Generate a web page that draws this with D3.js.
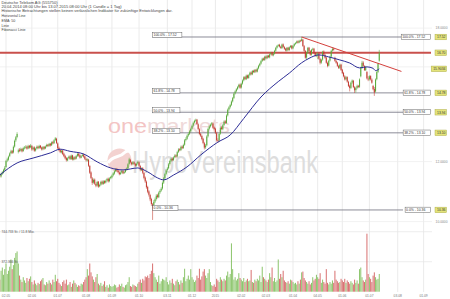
<!DOCTYPE html>
<html lang="de">
<head>
<meta charset="utf-8">
<title>Deutsche Telekom AG (555750)</title>
<script src="https://cdn.jsdelivr.net/npm/d3@7"></script>
<style>
  html, body { margin: 0; padding: 0; background: #fff; }
  svg { display: block; font-family: "Liberation Sans", Arial, sans-serif; }
</style>
</head>
<body>
<script>
// daily candles 22.04.2014 - 13.07.2015, one line per month
var opens = [
  11.40, 11.44, 11.54, 11.47, 11.57, 11.60, 11.70,
  11.80, 12.04, 12.07, 12.20, 12.31, 12.40, 12.34, 12.56, 12.80, 12.93, 12.36, 12.44, 12.41, 12.47, 12.39, 12.50, 12.53, 12.56, 12.49, 12.59, 12.53,
  12.58, 12.46, 12.53, 12.41, 12.49, 12.56, 12.51, 12.59, 12.53, 12.46, 12.55, 12.49, 12.57, 12.63, 12.59, 12.67, 12.61, 12.73, 12.69, 12.81, 12.86,
  12.68, 12.51, 12.43, 12.34, 12.41, 12.29, 12.21, 12.13, 12.04, 12.13, 12.19, 12.09, 12.23, 12.07, 12.16, 12.11, 12.21, 12.29, 12.23, 12.14, 12.21, 12.26, 12.19,
  12.09, 12.04, 12.07, 11.84, 11.61, 11.40, 11.26, 11.36, 11.21, 11.16, 11.29, 11.13, 11.19, 11.29, 11.21, 11.31, 11.26, 11.33, 11.39, 11.31, 11.41,
  11.44, 11.51, 11.57, 11.66, 11.73, 11.67, 11.61, 11.56, 11.61, 11.65, 11.59, 11.63, 11.71, 11.76, 11.92, 12.06, 11.97, 11.91, 11.97, 11.91, 11.86, 11.93,
  11.97, 11.84, 11.69, 11.76, 11.59, 11.43, 11.29, 11.11, 10.96, 10.84, 10.71, 10.54, 10.42, 10.63, 10.71, 10.83, 10.77, 10.93, 10.99, 11.06, 11.26, 11.41, 11.56,
  11.70, 11.76, 11.91, 12.03, 12.11, 12.06, 12.16, 12.23, 12.19, 12.36, 12.46, 12.43, 12.56, 12.51, 12.63, 12.81, 12.86, 12.99, 13.06, 13.16,
  13.26, 13.39, 13.51, 13.59, 13.63, 13.44, 13.24, 13.06, 12.97, 12.86, 12.69, 12.53, 12.61, 12.96, 13.26, 13.36, 13.43, 13.47, 13.31,
  13.26, 13.08, 12.81, 12.79, 13.06, 13.31, 13.24, 13.41, 13.56, 13.49, 13.81, 14.06, 14.16, 14.26, 14.41, 14.56, 14.76, 14.86, 14.96, 15.06, 15.16,
  15.03, 15.21, 15.36, 15.51, 15.41, 15.59, 15.47, 15.61, 15.73, 15.64, 15.81, 15.74, 15.86, 15.77, 15.93, 16.06, 16.16, 16.29, 16.41, 16.34,
  16.51, 16.43, 16.56, 16.47, 16.63, 16.71, 16.57, 16.66, 16.81, 16.96, 17.06, 17.11, 17.01, 16.94, 17.13, 16.99, 16.91, 16.81, 16.96, 16.84, 16.99, 17.06,
  16.93, 17.06, 17.16, 17.21, 17.29, 17.23, 17.33, 17.31, 17.38, 17.04, 16.79, 16.46, 16.71, 16.96, 16.79, 16.61, 16.86, 16.91, 16.69, 16.56,
  16.62, 16.66, 16.39, 16.21, 16.36, 16.76, 16.59, 16.46, 16.19, 16.06, 16.31, 16.51, 16.81, 16.91, 16.45, 16.29, 16.21, 16.04, 15.96, 16.11,
  15.86, 15.71, 15.54, 15.41, 15.51, 15.29, 15.11, 15.01, 15.26, 15.34, 15.04, 14.91, 15.01, 15.11, 15.06, 15.55, 15.96, 16.21, 16.04, 15.84, 15.75, 15.44,
  15.41, 15.56, 15.39, 15.10, 14.96, 14.85, 15.41, 15.76, 16.30
];
var highs = [
  11.50, 11.58, 11.57, 11.60, 11.66, 11.74, 11.84,
  12.06, 12.14, 12.22, 12.34, 12.44, 12.43, 12.60, 12.83, 12.97, 13.12, 12.48, 12.50, 12.52, 12.50, 12.55, 12.58, 12.61, 12.60, 12.63, 12.62, 12.66,
  12.62, 12.56, 12.57, 12.52, 12.60, 12.60, 12.63, 12.62, 12.56, 12.58, 12.58, 12.60, 12.67, 12.66, 12.70, 12.70, 12.76, 12.78, 12.84, 12.93, 12.90,
  12.72, 12.56, 12.47, 12.44, 12.45, 12.33, 12.25, 12.17, 12.16, 12.22, 12.23, 12.26, 12.25, 12.19, 12.20, 12.24, 12.32, 12.33, 12.27, 12.24, 12.29, 12.30, 12.22,
  12.14, 12.12, 12.10, 11.88, 11.65, 11.45, 11.40, 11.40, 11.26, 11.32, 11.31, 11.22, 11.32, 11.33, 11.34, 11.34, 11.36, 11.42, 11.43, 11.44, 11.49,
  11.54, 11.62, 11.69, 11.76, 11.77, 11.70, 11.64, 11.64, 11.70, 11.68, 11.66, 11.74, 11.79, 11.94, 12.14, 12.10, 12.00, 12.02, 12.01, 11.95, 11.96, 12.03,
  12.01, 11.88, 11.79, 11.80, 11.63, 11.47, 11.33, 11.15, 11.00, 10.88, 10.75, 10.58, 10.68, 10.76, 10.87, 10.88, 10.96, 11.03, 11.10, 11.30, 11.45, 11.60, 11.73,
  11.80, 11.95, 12.07, 12.15, 12.16, 12.19, 12.27, 12.27, 12.40, 12.50, 12.50, 12.60, 12.60, 12.67, 12.85, 12.92, 13.03, 13.10, 13.20, 13.30,
  13.43, 13.55, 13.63, 13.67, 13.66, 13.48, 13.28, 13.10, 13.02, 12.90, 12.74, 12.66, 13.00, 13.30, 13.40, 13.47, 13.53, 13.50, 13.35,
  13.30, 13.12, 12.88, 13.10, 13.35, 13.36, 13.45, 13.60, 13.62, 13.85, 14.10, 14.20, 14.30, 14.45, 14.60, 14.80, 14.90, 15.00, 15.10, 15.20, 15.21,
  15.25, 15.40, 15.55, 15.56, 15.63, 15.63, 15.65, 15.77, 15.78, 15.85, 15.86, 15.90, 15.90, 15.97, 16.10, 16.20, 16.33, 16.45, 16.46, 16.55,
  16.56, 16.60, 16.60, 16.67, 16.75, 16.75, 16.70, 16.85, 17.00, 17.10, 17.15, 17.16, 17.06, 17.17, 17.18, 17.04, 16.95, 17.00, 17.00, 17.03, 17.10, 17.10,
  17.10, 17.20, 17.25, 17.33, 17.34, 17.37, 17.38, 17.52, 17.42, 17.10, 16.84, 16.75, 17.00, 17.00, 16.84, 16.90, 16.96, 16.95, 16.74, 16.68,
  16.72, 16.70, 16.45, 16.40, 16.80, 16.82, 16.65, 16.50, 16.25, 16.35, 16.55, 16.85, 16.98, 16.96, 16.50, 16.35, 16.25, 16.10, 16.16, 16.15,
  15.90, 15.76, 15.60, 15.56, 15.55, 15.34, 15.16, 15.30, 15.40, 15.38, 15.09, 15.06, 15.16, 15.15, 15.45, 16.00, 16.30, 16.28, 16.08, 16.05, 15.80, 15.55,
  15.60, 15.60, 15.45, 15.15, 15.05, 15.45, 15.82, 16.20, 16.85
];
var lows = [
  11.35, 11.40, 11.44, 11.43, 11.52, 11.57, 11.66,
  11.78, 11.98, 12.03, 12.16, 12.27, 12.28, 12.30, 12.52, 12.74, 12.88, 12.30, 12.35, 12.37, 12.34, 12.36, 12.45, 12.48, 12.44, 12.46, 12.48, 12.50,
  12.40, 12.42, 12.36, 12.37, 12.45, 12.46, 12.47, 12.48, 12.41, 12.42, 12.44, 12.46, 12.53, 12.54, 12.55, 12.56, 12.58, 12.64, 12.66, 12.77, 12.66,
  12.45, 12.38, 12.31, 12.30, 12.24, 12.16, 12.08, 12.00, 12.01, 12.09, 12.06, 12.06, 12.04, 12.04, 12.06, 12.08, 12.17, 12.18, 12.11, 12.12, 12.18, 12.14, 12.06,
  12.00, 12.00, 11.81, 11.56, 11.38, 11.18, 11.22, 11.18, 11.10, 11.12, 11.08, 11.10, 11.15, 11.18, 11.18, 11.21, 11.23, 11.29, 11.26, 11.27, 11.37,
  11.40, 11.47, 11.53, 11.62, 11.64, 11.58, 11.51, 11.52, 11.57, 11.55, 11.56, 11.60, 11.67, 11.73, 11.89, 11.94, 11.86, 11.87, 11.88, 11.81, 11.82, 11.89,
  11.81, 11.65, 11.66, 11.55, 11.37, 11.25, 11.05, 10.90, 10.79, 10.64, 10.49, 10.05, 10.36, 10.58, 10.66, 10.73, 10.74, 10.88, 10.95, 11.02, 11.21, 11.36, 11.51,
  11.64, 11.72, 11.86, 11.98, 12.01, 12.02, 12.12, 12.14, 12.15, 12.32, 12.38, 12.39, 12.46, 12.47, 12.59, 12.76, 12.82, 12.94, 13.01, 13.11,
  13.22, 13.34, 13.47, 13.54, 13.41, 13.20, 13.00, 12.93, 12.80, 12.65, 12.45, 12.47, 12.57, 12.91, 13.21, 13.31, 13.38, 13.26, 13.20,
  13.05, 12.75, 12.70, 12.75, 13.02, 13.20, 13.20, 13.37, 13.45, 13.46, 13.76, 14.01, 14.10, 14.21, 14.36, 14.51, 14.71, 14.81, 14.91, 15.01, 14.97,
  14.98, 15.16, 15.31, 15.37, 15.37, 15.43, 15.43, 15.56, 15.60, 15.60, 15.70, 15.70, 15.73, 15.73, 15.88, 16.01, 16.11, 16.24, 16.30, 16.29,
  16.37, 16.38, 16.43, 16.42, 16.58, 16.53, 16.52, 16.61, 16.76, 16.91, 17.01, 16.97, 16.90, 16.89, 16.95, 16.85, 16.77, 16.76, 16.80, 16.80, 16.94, 16.87,
  16.88, 17.01, 17.11, 17.16, 17.18, 17.19, 17.25, 17.28, 17.00, 16.75, 16.40, 16.36, 16.66, 16.75, 16.55, 16.56, 16.81, 16.65, 16.50, 16.48,
  16.38, 16.35, 16.12, 16.15, 16.30, 16.55, 16.40, 16.15, 15.98, 16.02, 16.26, 16.46, 16.76, 16.80, 16.25, 16.15, 16.00, 15.90, 15.90, 15.80,
  15.65, 15.50, 15.35, 15.36, 15.25, 15.05, 14.85, 14.96, 15.20, 15.00, 14.78, 14.80, 14.95, 15.00, 15.01, 15.50, 15.90, 16.00, 15.80, 15.80, 15.40, 15.32,
  15.35, 15.35, 15.20, 14.90, 14.65, 14.80, 15.36, 15.70, 16.25
];
var closes = [
  11.45, 11.52, 11.48, 11.56, 11.62, 11.70, 11.78,
  12.02, 12.08, 12.18, 12.30, 12.38, 12.32, 12.55, 12.78, 12.92, 13.05, 12.42, 12.40, 12.46, 12.38, 12.50, 12.52, 12.55, 12.48, 12.58, 12.52, 12.60,
  12.45, 12.52, 12.40, 12.48, 12.55, 12.50, 12.58, 12.52, 12.45, 12.54, 12.48, 12.56, 12.62, 12.58, 12.66, 12.60, 12.72, 12.68, 12.80, 12.88, 12.70,
  12.50, 12.42, 12.35, 12.40, 12.28, 12.20, 12.12, 12.05, 12.12, 12.18, 12.10, 12.22, 12.08, 12.15, 12.10, 12.20, 12.28, 12.22, 12.15, 12.20, 12.25, 12.18, 12.10,
  12.05, 12.08, 11.85, 11.60, 11.42, 11.25, 11.35, 11.22, 11.15, 11.28, 11.12, 11.18, 11.28, 11.22, 11.30, 11.25, 11.32, 11.38, 11.30, 11.40, 11.45,
  11.50, 11.58, 11.65, 11.72, 11.68, 11.62, 11.55, 11.60, 11.66, 11.58, 11.62, 11.70, 11.75, 11.90, 12.08, 11.98, 11.90, 11.98, 11.92, 11.85, 11.92, 11.98,
  11.85, 11.70, 11.75, 11.60, 11.42, 11.30, 11.10, 10.95, 10.85, 10.70, 10.55, 10.40, 10.62, 10.70, 10.82, 10.78, 10.92, 10.98, 11.05, 11.25, 11.40, 11.55, 11.68,
  11.75, 11.90, 12.02, 12.10, 12.05, 12.15, 12.22, 12.18, 12.35, 12.45, 12.42, 12.55, 12.50, 12.62, 12.80, 12.85, 12.98, 13.05, 13.15, 13.25,
  13.38, 13.50, 13.58, 13.62, 13.45, 13.25, 13.05, 12.98, 12.85, 12.70, 12.52, 12.60, 12.95, 13.25, 13.35, 13.42, 13.48, 13.30, 13.25,
  13.10, 12.80, 12.78, 13.05, 13.30, 13.25, 13.40, 13.55, 13.50, 13.80, 14.05, 14.15, 14.25, 14.40, 14.55, 14.75, 14.85, 14.95, 15.05, 15.15, 15.02,
  15.20, 15.35, 15.50, 15.42, 15.58, 15.48, 15.60, 15.72, 15.65, 15.80, 15.75, 15.85, 15.78, 15.92, 16.05, 16.15, 16.28, 16.40, 16.35, 16.50,
  16.42, 16.55, 16.48, 16.62, 16.70, 16.58, 16.65, 16.80, 16.95, 17.05, 17.10, 17.02, 16.95, 17.12, 17.00, 16.90, 16.82, 16.95, 16.85, 16.98, 17.05, 16.92,
  17.05, 17.15, 17.20, 17.28, 17.22, 17.32, 17.30, 17.40, 17.05, 16.80, 16.45, 16.70, 16.95, 16.80, 16.60, 16.85, 16.90, 16.70, 16.55, 16.60,
  16.65, 16.40, 16.20, 16.35, 16.75, 16.60, 16.45, 16.20, 16.05, 16.30, 16.50, 16.80, 16.90, 16.85, 16.30, 16.20, 16.05, 15.95, 16.10, 15.85,
  15.70, 15.55, 15.40, 15.50, 15.30, 15.10, 15.00, 15.25, 15.35, 15.05, 14.90, 15.00, 15.10, 15.05, 15.40, 15.95, 16.20, 16.05, 15.85, 16.00, 15.45, 15.40,
  15.55, 15.40, 15.25, 14.95, 14.80, 15.40, 15.75, 16.15, 16.70
];
// volume in thousand shares
var volumes = [
  180, 230, 150, 260, 300, 210, 280,
  350, 220, 260, 310, 400, 280, 330, 420, 480, 500, 350, 200, 150, 120, 180, 140, 110, 170, 130, 160, 190,
  120, 90, 140, 100, 80, 110, 95, 130, 150, 170, 90, 80, 120, 100, 140, 110, 90, 150, 120, 210, 130,
  160, 110, 90, 70, 120, 140, 100, 150, 80, 90, 120, 60, 100, 140, 110, 90, 60, 80, 70, 100, 90, 120, 150,
  180, 280, 200, 350, 240, 190, 150, 120, 180, 220, 100, 80, 110, 70, 90, 130, 60, 80, 50, 90, 70,
  60, 70, 90, 80, 50, 60, 90, 70, 100, 60, 50, 80, 90, 120, 180, 70, 60, 90, 80, 70, 60, 100,
  120, 150, 110, 160, 140, 190, 180, 200, 170, 220, 260, 350, 230, 180, 150, 120, 200, 100, 130, 160, 150, 140, 180,
  120, 90, 140, 110, 160, 100, 80, 130, 150, 120, 90, 140, 110, 180, 285, 130, 160, 200, 150, 280,
  180, 150, 120, 140, 200, 170, 285, 150, 190, 250, 280, 200, 170, 230, 280, 120, 80, 70, 90,
  60, 160, 140, 120, 180, 150, 130, 160, 140, 200, 250, 180, 220, 600, 280, 150, 180, 140, 160, 230, 170,
  150, 130, 170, 120, 140, 160, 130, 140, 270, 120, 110, 150, 130, 160, 140, 200, 120, 310, 180, 160,
  140, 120, 150, 230, 180, 300, 130, 170, 120, 140, 400, 160, 220, 180, 260, 140, 120, 110, 130, 100, 150, 140,
  120, 100, 110, 90, 130, 100, 150, 240, 250, 170, 140, 120, 100, 130, 90, 110, 180, 140, 160, 210,
  180, 160, 230, 110, 150, 120, 100, 280, 110, 90, 120, 100, 140, 110, 260, 150, 130, 110, 120, 160,
  140, 120, 160, 110, 140, 120, 100, 130, 110, 90, 150, 110, 140, 100, 280, 300, 180, 140, 120, 150, 720, 220,
  180, 160, 120, 200, 240, 180, 150, 160, 220
];
var volMax = 744.733;

var emaDates = ["2014-04-24", "2014-05-15", "2014-06-03", "2014-06-23", "2014-07-03", "2014-07-15",
  "2014-07-30", "2014-08-14", "2014-08-29", "2014-09-12", "2014-09-30", "2014-10-10", "2014-10-22",
  "2014-10-29", "2014-11-10", "2014-11-25", "2014-12-10", "2015-01-06", "2015-01-20", "2015-02-04",
  "2015-02-24", "2015-03-16", "2015-03-27", "2015-04-14", "2015-04-22", "2015-05-05", "2015-05-15",
  "2015-05-28", "2015-06-09", "2015-06-19", "2015-06-29", "2015-07-06", "2015-07-08", "2015-07-13"];
var emaValues = [11.52, 11.95, 12.13, 12.32, 12.46, 12.38, 12.28, 11.99, 11.77, 11.70, 11.77, 11.63, 11.42,
  11.35, 11.52, 11.81, 12.24, 12.73, 13.01, 13.68, 14.60, 15.30, 15.70, 16.20, 16.42, 16.59, 16.49,
  16.34, 16.19, 15.95, 16.00, 15.93, 15.82, 15.9034];

var horizontalValue = 16.70;
var trendDates = ["2015-04-14", "2015-08-06"];
var trendValues = [17.52, 15.78];
var fibStart = "2014-10-16";
var fibLow = 10.36, fibHigh = 17.52;
var fibRatios = [0, 0.382, 0.5, 0.618, 1];

var priceTicks = [10, 12, 18];
var priceGrid = [10, 12, 14, 16, 18];
var tickDates = ["2014-05-02", "2014-06-02", "2014-07-01", "2014-08-01", "2014-09-01", "2014-10-01",
  "2014-11-03", "2014-12-01", "2015-01-02", "2015-02-02", "2015-03-02", "2015-04-01", "2015-05-04",
  "2015-06-01", "2015-07-01", "2015-08-03", "2015-09-01"];
var tickLabels = ["02.05", "02.06", "01.07", "01.08", "01.09", "01.10", "03.11", "01.12", "2015",
  "02.02", "02.03", "01.04", "04.05", "01.06", "01.07", "03.08", "01.09"];
var holidays = ["2014-05-01", "2014-12-24", "2014-12-25", "2014-12-26", "2014-12-31",
  "2015-01-01", "2015-04-03", "2015-04-06", "2015-05-01"];

var headerLines = ["Deutsche Telekom AG (555750)",
  "20.04.2014 08:00 Uhr bis 13.07.2015 08:00 Uhr (1 Candle = 1 Tag)",
  "Historische Betrachtungen stellen keinen verlässlichen Indikator für zukünftige Entwicklungen dar."];
var legendItems = ["Horizontal Line", "EMA: 50", "Linie", "Fibonacci Linie"];

// trading days (one candle per day, weekends and exchange holidays skipped)
var parseDay = d3.timeParse("%Y-%m-%d");
var fmtDay = d3.timeFormat("%Y-%m-%d");
var tradeDays = d3.timeDay.range(parseDay("2014-04-22"), parseDay("2015-09-02"))
  .filter(function (d) { return d.getDay() % 6 !== 0; })
  .map(fmtDay)
  .filter(function (s) { return holidays.indexOf(s) < 0; });

var w = 450, h = 299;
var up = "#58a83a", down = "#c23a30";

var x = d3.scalePoint().domain(tradeDays).range([-2.62, 423.6]);
var y = d3.scaleLog().domain([10, 18]).range([221.6, 28.1]);
var yVol = d3.scaleLinear().domain([0, volMax]).range([291.7, 231.7]);

var svg = d3.select("body").append("svg")
  .attr("width", w)
  .attr("height", h);

// grid
svg.append("g").selectAll("line")
  .data(tickDates)
  .enter()
  .append("line")
  .attr("x1", d => x(d)).attr("x2", d => x(d))
  .attr("y1", 0).attr("y2", 292)
  .attr("stroke", "#e3e3e3")
  .attr("stroke-width", 0.7);

svg.append("g").selectAll("line")
  .data(priceGrid)
  .enter()
  .append("line")
  .attr("x1", 0).attr("x2", 432)
  .attr("y1", d => y(d)).attr("y2", d => y(d))
  .attr("stroke", "#ececec")
  .attr("stroke-width", 0.7);

svg.append("g").selectAll("line")
  .data([volMax, volMax / 2])
  .enter()
  .append("line")
  .attr("x1", 0).attr("x2", 432)
  .attr("y1", d => yVol(d)).attr("y2", d => yVol(d))
  .attr("stroke", "#e6e6e6")
  .attr("stroke-width", 0.7);

// watermark
var wm = svg.append("g");
wm.append("text")
  .attr("x", 108).attr("y", 133)
  .attr("font-size", 20)
  .attr("textLength", 122)
  .attr("lengthAdjust", "spacingAndGlyphs")
  .html('<tspan fill="#f3c4c4">one</tspan><tspan fill="#efd9d9">markets</tspan>');
wm.append("circle")
  .attr("cx", 119.5).attr("cy", 160.5).attr("r", 12)
  .attr("fill", "#f3d2d0");
wm.append("path")
  .attr("d", "M108,163 C113,155 120,158 124,153 C127,150 130,151 131,152")
  .attr("fill", "none").attr("stroke", "#fff").attr("stroke-width", 3);
wm.append("text")
  .attr("x", 132).attr("y", 173)
  .attr("font-size", 31)
  .attr("textLength", 186)
  .attr("lengthAdjust", "spacingAndGlyphs")
  .attr("fill", "#dddddd")
  .text("HypoVereinsbank");

// volume
var days = d3.range(closes.length).map(function (i) {
  return { date: tradeDays[i], o: opens[i], h: highs[i], l: lows[i], c: closes[i], v: volumes[i] };
});

svg.append("g").selectAll("rect")
  .data(days)
  .enter()
  .append("rect")
  .attr("x", d => x(d.date) - 0.5)
  .attr("width", 1)
  .attr("y", d => yVol(d.v))
  .attr("height", d => yVol(0) - yVol(d.v))
  .attr("fill", d => d.c >= d.o ? "#8cc56c" : "#d87070");

// horizontal line
svg.append("line")
  .attr("x1", 0).attr("x2", 431)
  .attr("y1", y(horizontalValue)).attr("y2", y(horizontalValue))
  .attr("stroke", "#c9504c")
  .attr("stroke-width", 2);

// fibonacci lines
var fib = fibRatios.map(function (r) {
  return { r: r, v: fibLow + r * (fibHigh - fibLow) };
});
svg.append("g").selectAll("line")
  .data(fib)
  .enter()
  .append("line")
  .attr("x1", x(fibStart)).attr("x2", 403)
  .attr("y1", d => y(d.v)).attr("y2", d => y(d.v))
  .attr("stroke", "#6e6e7e")
  .attr("stroke-width", 0.8);

// candles
var cg = svg.append("g");
cg.selectAll("line")
  .data(days)
  .enter()
  .append("line")
  .attr("x1", d => x(d.date)).attr("x2", d => x(d.date))
  .attr("y1", d => y(d.h)).attr("y2", d => y(d.l))
  .attr("stroke", d => d.c >= d.o ? up : down)
  .attr("stroke-width", 0.55);
cg.selectAll("rect")
  .data(days)
  .enter()
  .append("rect")
  .attr("x", d => x(d.date) - 0.5)
  .attr("width", 1)
  .attr("y", d => y(Math.max(d.o, d.c)))
  .attr("height", d => Math.max(0.7, Math.abs(y(d.o) - y(d.c))))
  .attr("fill", d => d.c >= d.o ? up : down);

// EMA 50
var ema = emaDates.map(function (d, i) { return { date: d, v: emaValues[i] }; });
svg.append("path")
  .datum(ema)
  .attr("d", d3.line().x(d => x(d.date)).y(d => y(d.v)).curve(d3.curveMonotoneX))
  .attr("fill", "none")
  .attr("stroke", "#2c2c96")
  .attr("stroke-width", 1);

// trend line
svg.append("line")
  .attr("x1", x(trendDates[0])).attr("y1", y(trendValues[0]))
  .attr("x2", x(trendDates[1])).attr("y2", y(trendValues[1]))
  .attr("stroke", "#d4403c")
  .attr("stroke-width", 1);

// fib labels, left and right
function pct(r) { return (r * 100).toFixed(1) + "% - "; }
var fs = 3.4;
fib.forEach(function (d) {
  var t = pct(d.r) + d.v.toFixed(2);
  var bw = t.length * 1.95 + 2;
  var yy = y(d.v);
  [[x(fibStart), yy - 4.6], [430.5 - bw, yy - 2.8]].forEach(function (p) {
    svg.append("rect")
      .attr("x", p[0]).attr("y", p[1])
      .attr("width", bw).attr("height", 5.2)
      .attr("fill", "#fff").attr("stroke", "#555").attr("stroke-width", 0.45);
    svg.append("text")
      .attr("x", p[0] + 1).attr("y", p[1] + 4)
      .attr("font-size", fs).attr("fill", "#333")
      .text(t);
  });
});

// value boxes
var valueLabels = fib.map(d => ({ v: d.v, t: d.v.toFixed(2) }))
  .concat([{ v: horizontalValue, t: horizontalValue.toFixed(2) },
           { v: emaValues[emaValues.length - 1], t: emaValues[emaValues.length - 1].toFixed(4) }]);
valueLabels.forEach(function (d) {
  var bw = d.t.length * 1.9 + 2;
  var yy = y(d.v);
  svg.append("rect")
    .attr("x", 446.5 - bw).attr("y", yy - 2.8)
    .attr("width", bw).attr("height", 5.6)
    .attr("fill", "#e4e47a").attr("stroke", "#a9a94a").attr("stroke-width", 0.45);
  svg.append("text")
    .attr("x", 445.5).attr("y", yy + 1.3)
    .attr("text-anchor", "end")
    .attr("font-size", fs).attr("fill", "#333")
    .text(d.t);
});

// price axis
svg.append("g").selectAll("text")
  .data(priceTicks)
  .enter()
  .append("text")
  .attr("x", 447.5).attr("y", d => y(d) + 1.2)
  .attr("text-anchor", "end")
  .attr("font-size", 3.3).attr("fill", "#888")
  .text(d => d3.format(".4f")(d));

// time axis
svg.append("g").selectAll("text")
  .data(tickDates)
  .enter()
  .append("text")
  .attr("x", d => x(d)).attr("y", 297)
  .attr("text-anchor", "middle")
  .attr("font-size", 3.3).attr("fill", "#777")
  .text((d, i) => tickLabels[i]);

// volume labels
svg.append("text")
  .attr("x", 1.5).attr("y", yVol(volMax) + 1.3)
  .attr("font-size", 3.3).attr("fill", "#555")
  .text(d3.format(",.3f")(volMax).replace(",", "") + " St. / 11.8 Mio.");
svg.append("text")
  .attr("x", 1.5).attr("y", yVol(volMax / 2) + 1.3)
  .attr("font-size", 3.3).attr("fill", "#555")
  .text((volMax / 2).toFixed(3) + " St.");

// header
var widths = [56, 120, 171];
svg.append("g").selectAll("text")
  .data(headerLines)
  .enter()
  .append("text")
  .attr("x", 1.5).attr("y", (d, i) => 4 + i * 3.9)
  .attr("font-size", 3.5).attr("fill", "#444")
  .attr("textLength", (d, i) => widths[i])
  .attr("lengthAdjust", "spacingAndGlyphs")
  .text(d => d);
svg.append("g").selectAll("text")
  .data(legendItems)
  .enter()
  .append("text")
  .attr("x", 1.5).attr("y", (d, i) => 17.3 + i * 4.7)
  .attr("font-size", 3.6).attr("fill", "#444")
  .text(d => d);
</script>
</body>
</html>
